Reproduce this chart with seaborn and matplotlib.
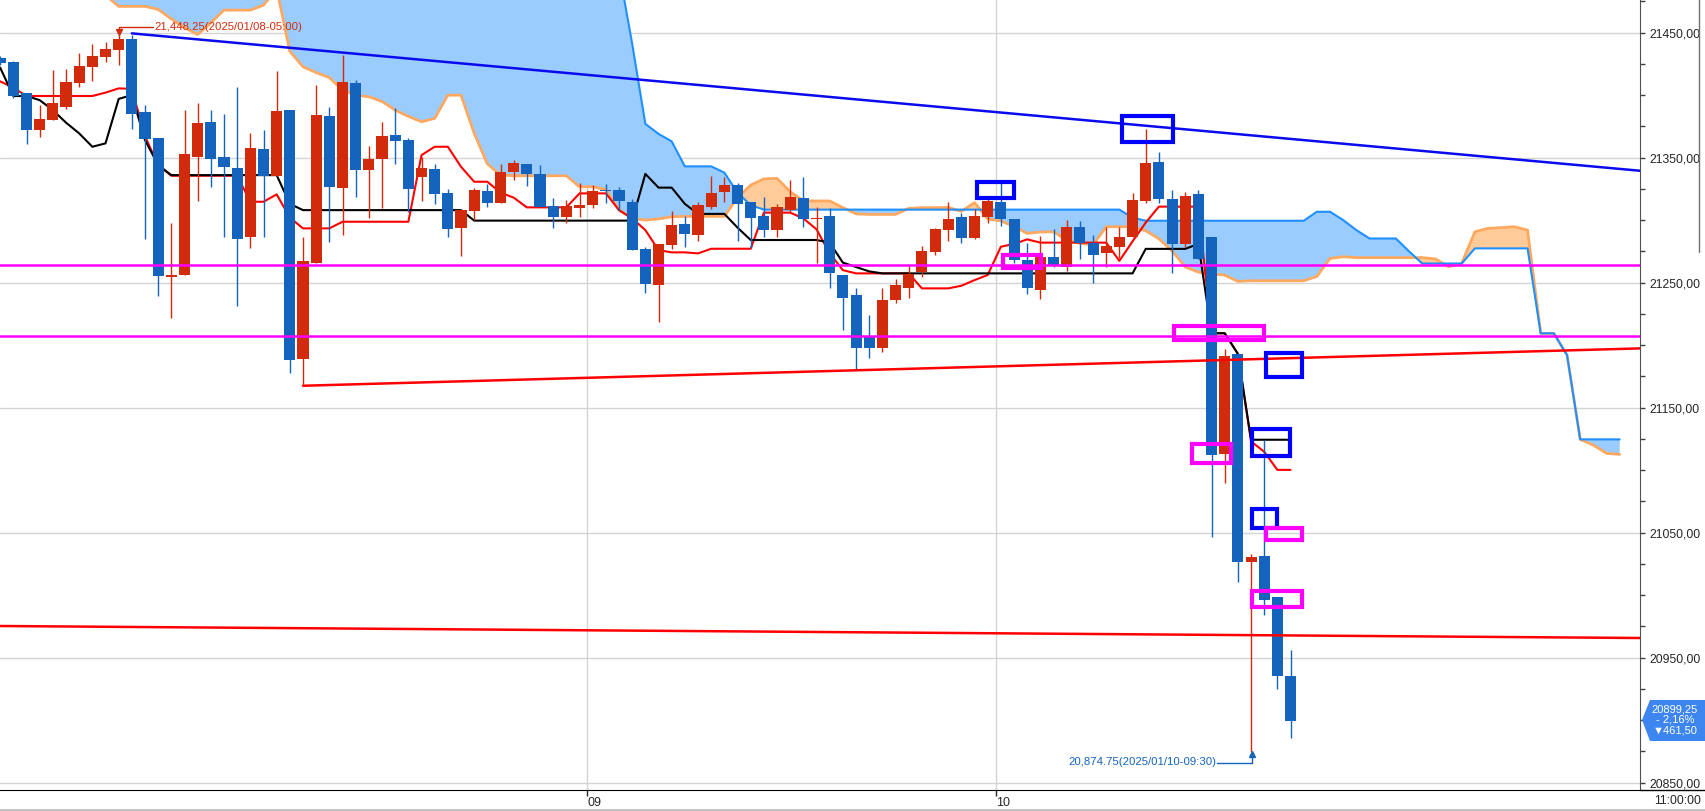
import numpy as np
import pandas as pd
import matplotlib
matplotlib.use("Agg")
import matplotlib.pyplot as plt
import seaborn as sns
from matplotlib.patches import Rectangle, Polygon
from matplotlib.lines import Line2D

# ---- values (bar index 0 = left edge) ----
opens = [21429.4, 21426.7, 21401.7, 21372.3, 21380.3, 21390.8, 21410.0, 21422.5, 21430.5, 21436.1,
         21444.9, 21386.5, 21365.7, 21254.7, 21256.4, 21350.7, 21378.5, 21350.5, 21341.7, 21286.8,
         21356.9, 21335.5, 21388.1, 21189.1, 21266.0, 21383.3, 21325.9, 21409.7, 21340.4, 21349.1,
         21368.1, 21364.1, 21334.8, 21340.6, 21321.4, 21293.9, 21307.5, 21323.3, 21314.0, 21338.7,
         21344.9, 21336.9, 21311.3, 21302.7, 21309.9, 21312.3, 21323.8, 21324.1, 21314.5, 21276.9,
         21248.3, 21280.3, 21296.9, 21288.3, 21310.7, 21322.7, 21328.1, 21314.5, 21303.3, 21292.1,
         21308.1, 21317.7, 21301.0, 21303.3, 21256.1, 21240.0, 21206.7, 21197.4, 21236.1, 21246.0,
         21258.7, 21274.2, 21292.4, 21302.5, 21285.9, 21302.8, 21314.7, 21300.9, 21268.1, 21244.4,
         21270.5, 21262.7, 21294.5, 21281.5, 21273.8, 21278.6, 21286.7, 21315.0, 21346.2, 21317.2,
         21280.9, 21320.5, 21286.7, 21113.1, 21192.5, 21026.3, 21031.1, 20998.3, 20935.2]
highs = [21431.0, 21427.5, 21401.7, 21392.1, 21420.1, 21420.9, 21433.7, 21441.1, 21442.2, 21448.25,
         21448.0, 21392.1, 21365.7, 21297.7, 21388.1, 21393.7, 21388.1, 21384.9, 21406.2, 21369.7,
         21372.1, 21419.3, 21388.1, 21286.5, 21408.1, 21390.5, 21432.1, 21412.1, 21359.3, 21378.5,
         21389.7, 21365.7, 21350.7, 21344.9, 21324.6, 21309.2, 21325.7, 21328.9, 21345.2, 21348.1,
         21344.9, 21344.1, 21317.4, 21316.1, 21329.7, 21328.1, 21328.9, 21326.5, 21316.8, 21278.2,
         21280.9, 21307.5, 21303.3, 21314.8, 21335.3, 21334.7, 21329.4, 21314.5, 21318.2, 21312.6,
         21332.1, 21334.2, 21310.2, 21309.4, 21256.1, 21245.4, 21224.1, 21245.4, 21252.6, 21263.3,
         21279.3, 21294.0, 21314.5, 21306.0, 21308.9, 21318.2, 21329.4, 21300.9, 21281.4, 21287.0,
         21292.9, 21300.1, 21299.2, 21288.3, 21294.7, 21294.7, 21321.4, 21372.6, 21354.2, 21323.7,
         21322.7, 21323.7, 21286.7, 21196.7, 21192.5, 21032.7, 21124.3, 20998.3, 20956.4]
lows = [21424.0, 21397.4, 21361.2, 21366.8, 21380.3, 21388.6, 21406.7, 21411.5, 21426.7, 21424.3,
        21372.9, 21285.1, 21239.5, 21221.9, 21256.4, 21315.5, 21326.7, 21286.8, 21231.6, 21277.9,
        21286.2, 21335.5, 21177.9, 21167.5, 21266.0, 21282.7, 21288.3, 21318.7, 21302.0, 21310.0,
        21345.0, 21306.7, 21315.5, 21313.0, 21286.7, 21271.5, 21300.1, 21310.7, 21314.0, 21332.1,
        21327.5, 21310.2, 21293.9, 21297.4, 21302.7, 21310.0, 21313.4, 21307.3, 21276.4, 21241.9,
        21218.7, 21277.2, 21278.7, 21283.5, 21308.6, 21314.8, 21283.5, 21277.4, 21286.7, 21286.7,
        21306.7, 21294.2, 21265.9, 21245.9, 21212.1, 21180.1, 21189.4, 21194.7, 21234.0, 21238.0,
        21254.7, 21272.1, 21283.5, 21282.0, 21285.2, 21297.4, 21295.3, 21266.0, 21241.1, 21236.6,
        21262.2, 21259.5, 21269.0, 21249.4, 21262.6, 21269.6, 21286.7, 21313.4, 21314.0, 21257.8,
        21278.6, 21269.0, 21046.2, 21089.6, 21010.8, 20874.75, 20984.4, 20924.9, 20885.7]
closes = [21425.4, 21399.5, 21372.3, 21380.9, 21393.7, 21410.5, 21423.3, 21431.3, 21436.9, 21444.9,
          21384.9, 21365.1, 21255.5, 21256.0, 21353.2, 21377.7, 21349.1, 21342.7, 21285.2, 21357.7,
          21335.5, 21387.3, 21188.3, 21267.3, 21384.1, 21326.7, 21410.5, 21340.4, 21348.9, 21367.3,
          21363.5, 21325.1, 21341.5, 21321.2, 21293.1, 21308.1, 21324.1, 21314.0, 21338.5, 21345.7,
          21336.6, 21310.2, 21302.7, 21311.3, 21311.8, 21323.3, 21323.3, 21315.5, 21276.4, 21248.9,
          21280.9, 21296.1, 21288.6, 21312.1, 21321.7, 21328.1, 21313.2, 21301.9, 21291.8, 21310.5,
          21318.5, 21301.1, 21302.0, 21257.9, 21238.0, 21197.4, 21197.4, 21236.1, 21248.1, 21256.9,
          21275.3, 21292.9, 21300.9, 21285.9, 21303.3, 21315.3, 21300.6, 21268.1, 21246.0, 21270.5,
          21264.1, 21294.5, 21281.4, 21272.2, 21279.6, 21286.7, 21316.3, 21345.5, 21316.6, 21280.9,
          21319.5, 21269.0, 21112.1, 21191.5, 21026.3, 21030.1, 20996.3, 20935.2, 20899.25]

# conversion line (red) and base line (black)
tenkan = [21411, 21406, 21399.3, 21399.3, 21399.3, 21399.3, 21399.3, 21399.3, 21402, 21405.4,
          21405, 21367, 21344, 21335.5, 21335.5, 21335.5, 21335.5, 21335.5, 21335.5, 21314.7,
          21314.7, 21320.6, 21302, 21293.4, 21293.4, 21293.4, 21298.7, 21298.7, 21298.7, 21298.7,
          21298.7, 21298.7, 21352, 21358.7, 21358.7, 21342.7, 21330.7, 21330.7, 21322, 21318,
          21310.2, 21310.2, 21310.2, 21310.2, 21321.4, 21321.4, 21321.4, 21308, 21301.4, 21292,
          21276, 21274.2, 21274.2, 21273.4, 21277.1, 21277.1, 21277.1, 21277.1, 21306, 21306,
          21306, 21301.4, 21292.6, 21273.4, 21260, 21257.4, 21257.4, 21257.4, 21257.4, 21257.4,
          21245.4, 21245.4, 21245.4, 21247.5, 21252, 21256.1, 21278.7, 21281, 21284.6, 21282,
          21282, 21282, 21282, 21282, 21282, 21267.4, 21283, 21298, 21310.8, 21310.8,
          21310.8, 21310.8, 21209.5, 21209.5, 21193, 21123, 21114.7, 21100.2, 21100.2]
kijun = [21422, 21399.3, 21399.3, 21396, 21388, 21378, 21369.4, 21358.7, 21361.4, 21397,
         21400, 21364, 21344, 21336, 21336, 21336, 21336, 21336, 21336, 21336,
         21336, 21336, 21313, 21308, 21308, 21308, 21308, 21308, 21308, 21308,
         21308, 21308, 21308, 21308, 21308, 21308, 21299.6, 21299.6, 21299.6, 21299.6,
         21299.6, 21299.6, 21299.6, 21299.6, 21299.6, 21299.6, 21299.6, 21299.6, 21299.6, 21337,
         21326, 21326, 21313, 21305, 21305, 21305, 21294, 21284.1, 21284.1, 21284.1,
         21284.1, 21284.1, 21284.1, 21282, 21266, 21262.5, 21259, 21257.4, 21257.4, 21257.4,
         21257.4, 21257.4, 21257.4, 21257.4, 21257.4, 21257.4, 21257.4, 21257.4, 21257.4, 21257.4,
         21257.4, 21257.4, 21257.4, 21257.4, 21257.4, 21257.4, 21257.4, 21277, 21277, 21277,
         21277, 21281, 21209.5, 21209.5, 21193, 21124.3, 21124.3, 21124.3, 21124.3]

# leading spans (run 25 bars past the last candle); values above the frame are off-screen
span_blue = [21600] * 46 + [
    21560, 21500, 21441, 21377, 21369, 21363, 21343, 21343, 21343, 21338,
    21322, 21312, 21308.4, 21308.4, 21308.4, 21308.4, 21308.4, 21308.4, 21308.4, 21308.4,
    21308.4, 21308.4, 21308.4, 21308.4, 21308.4, 21308.4, 21308.4, 21308.4, 21308.4, 21308.4,
    21308.4, 21308.4, 21308.4, 21308.4, 21308.4, 21308.4, 21308.4, 21308.4, 21308.4, 21308.4,
    21302, 21299.5, 21299.5, 21299.5, 21299.5, 21299.5, 21299.5, 21299.5, 21299.5, 21299.5,
    21299.5, 21299.5, 21299.5, 21299.5, 21306.7, 21306.7, 21300, 21292, 21285.3, 21285.3,
    21285.3, 21275, 21265.3, 21265.3, 21265.3, 21265.3, 21277.4, 21277.4, 21277.4, 21277.4,
    21277.4, 21209.4, 21209.4, 21192, 21124.6, 21124.6, 21124.6, 21124.6]
span_orange = [21500] * 8 + [
    21480, 21471, 21471, 21471, 21468.6, 21461, 21454, 21448.5, 21458, 21468,
    21468, 21468, 21472, 21485, 21435, 21422.7, 21418, 21414, 21404, 21400,
    21398.7, 21395, 21388, 21383, 21378.7, 21381.4, 21400, 21400, 21369.4, 21345,
    21336.1, 21335.5, 21335.5, 21335.5, 21335.5, 21335.5, 21326.7, 21326.7, 21324.5, 21308.1,
    21301.4, 21300, 21301, 21302.7, 21303, 21303, 21303, 21303, 21318, 21328,
    21333, 21333.4, 21322.7, 21315.5, 21315.3, 21315.3, 21310, 21305, 21304.6, 21304.6,
    21304.6, 21309.4, 21310, 21310, 21310.2, 21307, 21314, 21301, 21299.3, 21295,
    21289.4, 21290.5, 21290.7, 21284, 21281.4, 21280.3, 21294.7, 21294.7, 21294.7, 21291.5,
    21285.1, 21275.4, 21262.6, 21258.4, 21257, 21256, 21251, 21251.5, 21251.5, 21251.5,
    21251.5, 21251.5, 21255, 21269.4, 21270.7, 21270, 21270, 21270, 21270, 21270,
    21270, 21269, 21262.7, 21265.4, 21290.7, 21293.4, 21294, 21294.7, 21292, 21209.4,
    21209.4, 21192, 21124.6, 21120, 21113.4, 21112.6]

# hand-drawn trend lines and levels
blue_trend_x, blue_trend_y = [10, 124.54], [21449.4, 21339.5]
red_trend_x, red_trend_y = [23, 124.54], [21167.5, 21197.4]
low_trend_x, low_trend_y = [-0.02, 124.54], [20975.3, 20965.7]
magenta_levels = [21264.3, 21207.5]

# marker boxes: (bar from, bar to, price low, price high)
blue_boxes = [(85.2, 89.1, 21362.5, 21383.3), (74.2, 77.0, 21317.3, 21330.5),
              (96.15, 98.9, 21174.5, 21193.9), (95.1, 97.95, 21111.5, 21133.1),
              (95.1, 96.95, 21053.7, 21069.1)]
magenta_boxes = [(76.15, 79.05, 21261.7, 21272.3), (89.15, 95.95, 21203.8, 21215.0),
                 (90.55, 93.45, 21105.7, 21120.6), (96.15, 98.9, 21043.8, 21053.7),
                 (95.1, 98.9, 20990.2, 21003.0)]

ytick_vals = [20850, 20950, 21050, 21150, 21250, 21350, 21450]
xtick_pos = [44.58, 75.64]
xtick_labels = ["09", "10"]

hi_label = "21,448.25(2025/01/08-05:00)"
lo_label = "20,874.75(2025/01/10-09:30)"
last_tag = "20899,25\n- 2,16%\n\u25bc461,50"

# ---- drawing ----
sns.set_style("white")
plt.rcParams["font.family"] = ["Liberation Sans", "DejaVu Sans"]

RED = "#D22B0C"
BLUE = "#1464BE"

fig = plt.figure(figsize=(17.05, 8.11), dpi=100)
ax = fig.add_axes([0, 21 / 811, 1640 / 1705, 790 / 811])

bars = np.arange(len(opens))
o = np.array(opens)
c = np.array(closes)
colors = np.where(c > o, RED, BLUE)

# cloud
kc = np.arange(len(span_blue))
sb = np.array(span_blue)
so = np.array(span_orange)
ax.fill_between(kc, sb, so, where=sb >= so, interpolate=True, color="#9ACCFF", lw=0, zorder=1)
ax.fill_between(kc, sb, so, where=so > sb, interpolate=True, color="#FFCC99", lw=0, zorder=1)

cloud = pd.DataFrame({"bar": kc, "blue": span_blue, "orange": span_orange})
sns.lineplot(data=cloud, x="bar", y="orange", color="#FFA860", lw=2, ax=ax, zorder=2)
sns.lineplot(data=cloud, x="bar", y="blue", color="#1E90FF", lw=1.5, ax=ax, zorder=2)

lines = pd.DataFrame({"bar": bars, "tenkan": tenkan, "kijun": kijun})
sns.lineplot(data=lines, x="bar", y="tenkan", color="#FF0000", lw=1.5, ax=ax, zorder=3)
sns.lineplot(data=lines, x="bar", y="kijun", color="black", lw=1.5, ax=ax, zorder=3.5)

# candles
ax.vlines(bars, lows, highs, colors=colors, lw=1, zorder=4)
ax.bar(bars, np.maximum(np.abs(c - o), 0.8), bottom=np.minimum(o, c), width=0.84,
       color=colors, lw=0, zorder=5)

# trend lines / levels
ax.plot(blue_trend_x, blue_trend_y, color="#0A0AEE", lw=1.8, zorder=6)
ax.plot(red_trend_x, red_trend_y, color="#FF0000", lw=1.8, zorder=6)
ax.plot(low_trend_x, low_trend_y, color="#FF0000", lw=1.8, zorder=6)
for lv in magenta_levels:
    ax.axhline(lv, color="#FF00FF", lw=1.8, zorder=6)

for x0, x1, y0, y1 in blue_boxes:
    ax.add_patch(Rectangle((x0, y0), x1 - x0, y1 - y0, fill=False, ec="#0000FF", lw=3, zorder=7))
for x0, x1, y0, y1 in magenta_boxes:
    ax.add_patch(Rectangle((x0, y0), x1 - x0, y1 - y0, fill=False, ec="#FF00FF", lw=3, zorder=7))

# high / low call-outs
ax.plot([9, 9, 11.6], [21450.3, 21454.2, 21454.2], color=RED, lw=1, zorder=8)
ax.plot([9], [21450.3], marker="v", ms=4, color=RED, zorder=8)
ax.text(11.7, 21454.4, hi_label, color=RED, fontsize=8.2, ha="left", va="center", zorder=8)
ax.plot([92.45, 95.07, 95.07], [20865.9, 20865.9, 20873.2], color=BLUE, lw=1, zorder=8)
ax.plot([95.07], [20873.2], marker="^", ms=4, color=BLUE, zorder=8)
ax.text(92.4, 20866.2, lo_label, color=BLUE, fontsize=8.2, ha="right", va="center", zorder=8)

# axes cosmetics
ax.set_xlim(-0.013, 124.54)
ax.set_ylim(20844.1, 21476.1)
ax.set_xlabel("")
ax.set_ylabel("")
ax.grid(True, color="#D4D4D4", lw=1)
ax.set_axisbelow(True)

ax.yaxis.tick_right()
ax.set_yticks(ytick_vals)
ax.set_yticklabels([f"{v:.2f}".replace(".", ",") for v in ytick_vals])
ax.set_yticks(np.arange(20850, 21476, 25), minor=True)
ax.tick_params(axis="y", which="both", left=False, right=True, labelright=True, labelleft=False,
               direction="out", length=3.5, width=1, color="#404040", pad=3, labelsize=8.8)
ax.set_xticks(xtick_pos)
ax.set_xticklabels(xtick_labels, ha="left")
ax.tick_params(axis="x", bottom=True, direction="out", length=4, width=1, pad=1, labelsize=9)

for side in ["top", "left"]:
    ax.spines[side].set_visible(False)
ax.spines["right"].set_color("#505050")
ax.spines["bottom"].set_color("black")

# right-hand price tag
pts = [(1642, 720), (1650, 700), (1705, 700), (1705, 741), (1650, 741)]
fig.add_artist(Polygon([(x / 1705, 1 - y / 811) for x, y in pts], closed=True,
                       transform=fig.transFigure, color="#3D86F0", lw=0))
fig.text(1675 / 1705, 1 - 720 / 811, last_tag, color="white", fontsize=8,
         ha="center", va="center", linespacing=1.1)

fig.text(1654 / 1705, 1 - 801 / 811, "11:00:00", fontsize=8.7, ha="left", va="center")
fig.add_artist(Line2D([1640 / 1705, 1], [21 / 811, 21 / 811], transform=fig.transFigure,
                      color="black", lw=1))
fig.add_artist(Line2D([0, 1], [1.5 / 811, 1.5 / 811], transform=fig.transFigure,
                      color="#B8B8B8", lw=1.2))
fig.add_artist(Line2D([1699 / 1705, 1699 / 1705], [1, 1 - 252 / 811], transform=fig.transFigure,
                      color="#707070", lw=1))

fig.savefig("out.png", dpi=100)
